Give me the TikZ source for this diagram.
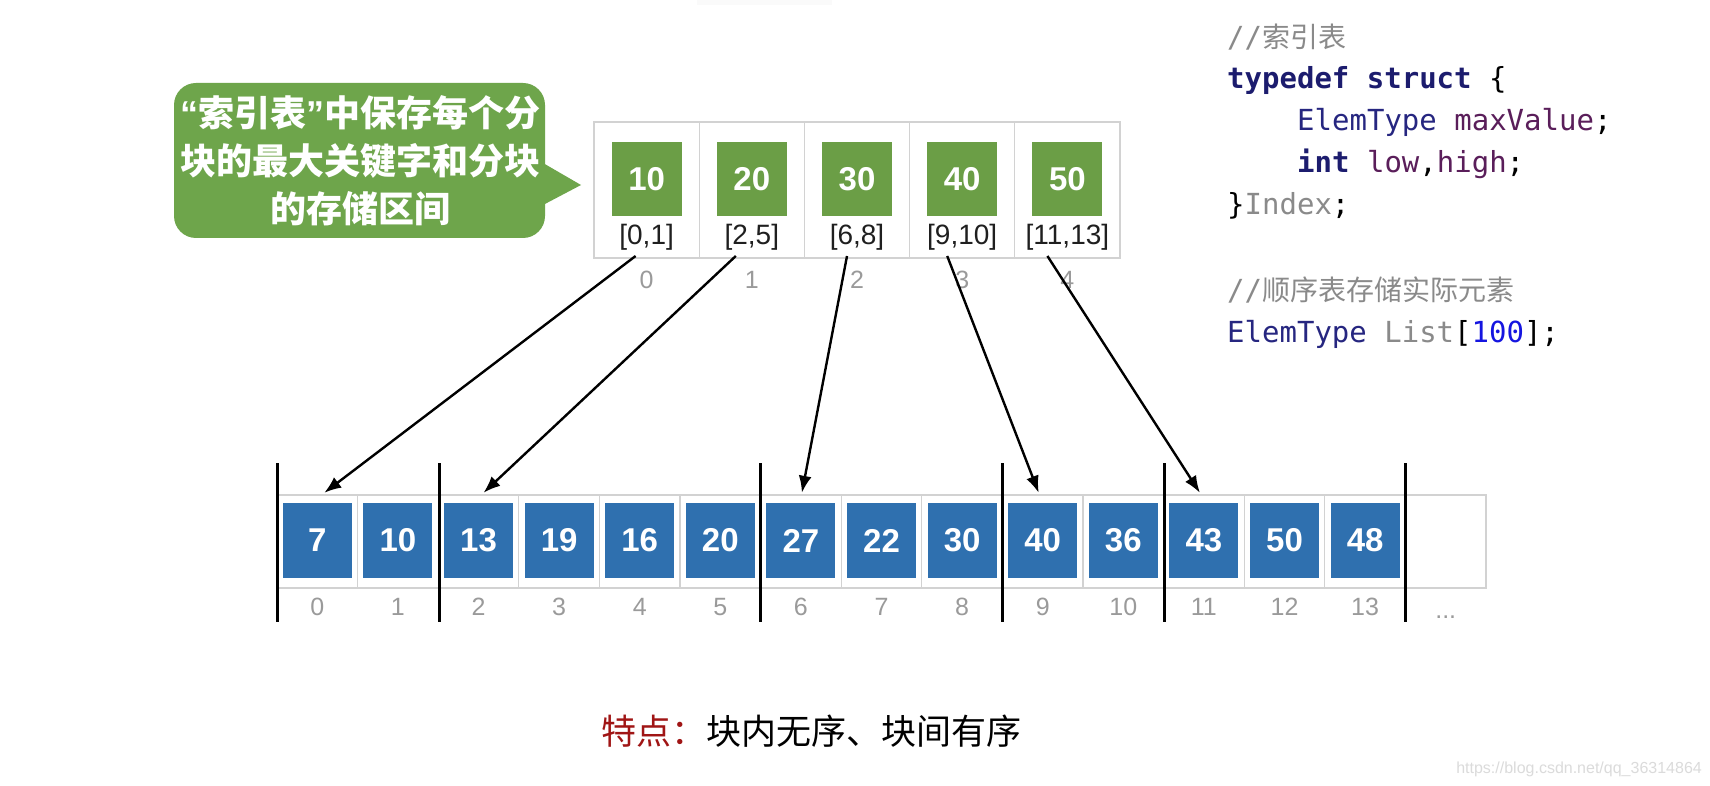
\documentclass[tikz,border=0pt]{standalone}
\usepackage{fontspec}
\setmainfont{Liberation Sans}
\setmonofont{DejaVu Sans Mono}
\newfontfamily\cjk{Noto Sans CJK SC}
\usetikzlibrary{arrows.meta,calc}
\definecolor{gbox}{HTML}{6B9E46}
\definecolor{gbub}{HTML}{6EA54B}
\definecolor{bbox}{HTML}{2F70AF}
\definecolor{cellb}{HTML}{D2D2D2}
\definecolor{idxg}{HTML}{9A9A9A}
\definecolor{kw}{HTML}{1C1C6E}
\definecolor{ty}{HTML}{262680}
\definecolor{vr}{HTML}{5A1E5A}
\definecolor{cm}{HTML}{8A8A8A}
\definecolor{nm}{HTML}{1515E0}
\definecolor{tered}{HTML}{A01515}
\tikzset{
  tcell/.style={draw=cellb, line width=1.2pt, minimum width=105.2pt, minimum height=136pt, inner sep=0pt},
  gsq/.style={fill=gbox, text=white, minimum width=70pt, minimum height=74pt, inner sep=0pt, font=\bfseries\fontsize{33}{36}\selectfont},
  rng/.style={inner sep=0pt, text=black!88, font=\fontsize{28}{30}\selectfont},
  idx/.style={inner sep=0pt, text=idxg, font=\fontsize{25}{27}\selectfont},
  acell/.style={draw=cellb, line width=1.2pt, minimum width=80.6pt, minimum height=93pt, inner sep=0pt},
  bsq/.style={fill=bbox, text=white, minimum width=69pt, minimum height=75pt, inner sep=0pt, font=\bfseries\fontsize{33}{36}\selectfont},
  bar/.style={line width=3pt, black},
  arr/.style={line width=2.4pt, -{Latex[length=17pt,width=13pt]}},
  code/.style={anchor=base west, inner sep=0pt, font=\ttfamily\fontsize{29}{34}\selectfont},
}
\begin{document}
\begin{tikzpicture}[x=1pt,y=-1pt]
\useasboundingbox (0,0) rectangle (1710,786);
\fill[white] (0,0) rectangle (1710,786);
\fill[gray!4] (697,0) rectangle (832,5);

% callout bubble
\fill[gbub, rounded corners=22pt] (174,83) rectangle (545,238);
\fill[gbub] (543,163) -- (581,185) -- (543,205) -- cycle;
\node[align=center, text=white, inner sep=0pt, font=\cjk\bfseries\fontsize{36}{48}\selectfont] (bub) at (360,161)
  {{\rmfamily\bfseries “}索引表{\rmfamily\bfseries ”}中保存每个分\\块的最大关键字和分块\\的存储区间};

% index table
\foreach \v/\r [count=\i from 0] in {10/{[0,1]},20/{[2,5]},30/{[6,8]},40/{[9,10]},50/{[11,13]}}{
  \node[tcell] (t\i) at ({646.6+105.2*\i},190) {};
  \node[gsq] (g\i) at ({646.6+105.2*\i},179) {\v};
  \node[rng] (r\i) at ({646.6+105.2*\i},237) {\r};
  \node[idx] (ti\i) at ({646.6+105.2*\i},280) {\i};
}

% array
\foreach \v [count=\i from 0] in {7,10,13,19,16,20,27,22,30,40,36,43,50,48}{
  \node[acell] (a\i) at ({317.3+80.6*\i},541.5) {};
  \node[bsq] (c\i) at ({317.3+80.6*\i},540.5) {\v};
  \node[idx] (ai\i) at ({317.3+80.6*\i},607) {\i};
}
\node[acell] (a14) at ({317.3+80.6*14},541.5) {};
\node[idx, anchor=base] (dots) at ({317.3+80.6*14},618) {...};

% block separators
\foreach \x in {277,439,760,1002,1164,1405}{
  \draw[bar] (\x,463) -- (\x,622);
}

% arrows
\draw[arr] ([shift={(-11,19)}]r0.center) -- ([shift={(7,-10)}]c0.north);
\draw[arr] ([shift={(-16,19)}]r1.center) -- ([shift={(5,-10)}]c2.north);
\draw[arr] ([shift={(-10,19)}]r2.center) -- ([shift={(1,-10)}]c6.north);
\draw[arr] ([shift={(-15,19)}]r3.center) -- ([shift={(-4,-10)}]c9.north);
\draw[arr] ([shift={(-20,19)}]r4.center) -- ([shift={(-4,-10)}]c11.north);

% code
\node[code, text=cm] (l1) at (1227,48) {//{\cjk\fontsize{28}{34}\selectfont 索引表}};
\node[code] (l2) at (1227,89) {{\bfseries\color{kw}typedef struct} \{};
\node[code] (l3) at (1297,131) {{\color{ty}ElemType} {\color{vr}maxValue};};
\node[code] (l4) at (1297,173) {{\bfseries\color{kw}int} {\color{vr}low},{\color{vr}high};};
\node[code] (l5) at (1227,215) {\}{\color{cm}Index};};
\node[code, text=cm] (l6) at (1227,300) {//{\cjk\fontsize{28}{34}\selectfont 顺序表存储实际元素}};
\node[code] (l7) at (1227,342) {{\color{ty}ElemType} {\color{cm}List}[{\color{nm}100}];};

% feature text
\node[anchor=west, inner sep=0pt, font=\cjk\fontsize{35}{40}\selectfont] (feat) at (601,731)
  {{\color{tered}特点：}块内无序、块间有序};

% watermark
\node[anchor=east, inner sep=0pt, text=gray!28, font=\fontsize{16}{18}\selectfont] (wm) at (1702,769)
  {https://blog.csdn.net/qq\_36314864};
\end{tikzpicture}
\end{document}
